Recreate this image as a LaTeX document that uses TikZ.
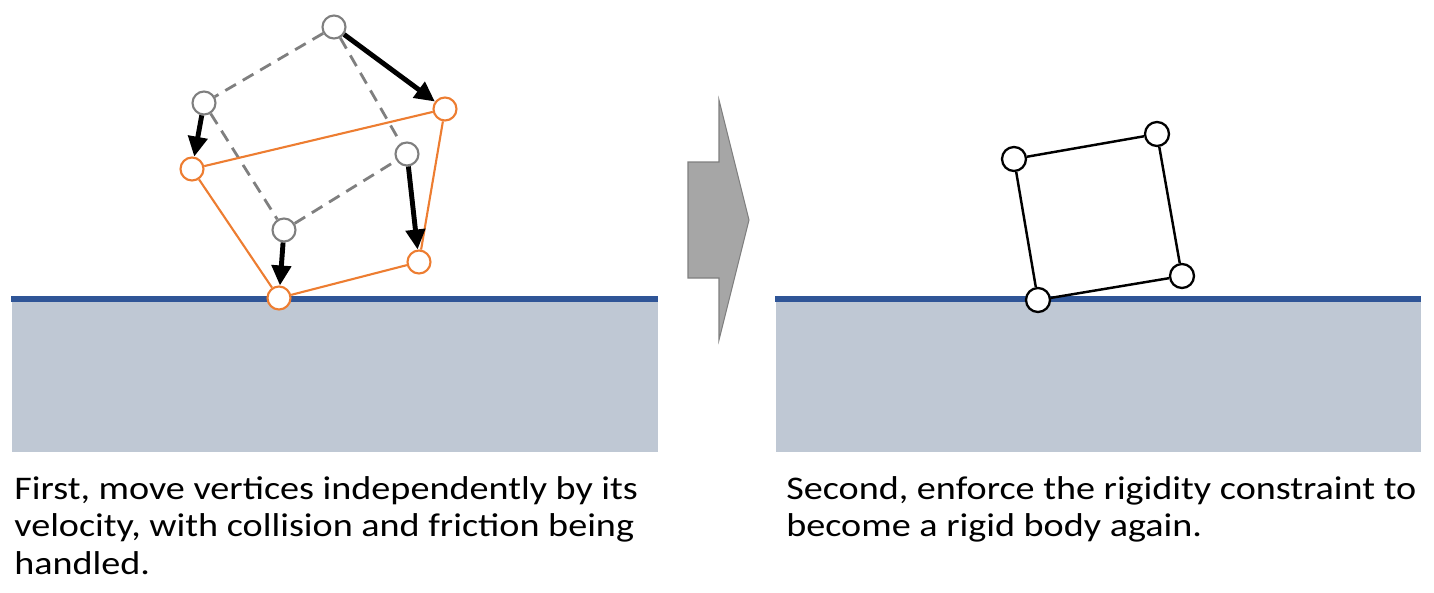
\documentclass[tikz,border=0pt]{standalone}
\usepackage{fontspec}
\setmainfont{Carlito}[FakeStretch=1.155]
\usetikzlibrary{arrows.meta}
\definecolor{vorange}{HTML}{ED7D31}
\definecolor{vgray}{HTML}{7F7F7F}
\definecolor{floorblue}{HTML}{2F5597}
\definecolor{floorfill}{HTML}{BFC8D4}
\definecolor{stepgray}{HTML}{A6A6A6}
\tikzset{
  oldvtx/.style   = {circle, draw=vgray, line width=1.2pt, fill=white,
                     inner sep=0pt, minimum size=0.46cm},
  newvtx/.style   = {circle, draw=vorange, line width=1.2pt, fill=white,
                     inner sep=0pt, minimum size=0.46cm},
  rigidvtx/.style = {circle, draw=black, line width=1.3pt, fill=white,
                     inner sep=0pt, minimum size=0.48cm},
  oldedge/.style  = {draw=vgray, line width=1.6pt, dash pattern=on 7pt off 4.5pt},
  newedge/.style  = {draw=vorange, line width=1.2pt},
  rigidedge/.style= {draw=black, line width=1.4pt},
  move/.style     = {-{Triangle[length=4mm,width=3.8mm]}, line width=2.8pt},
  floorline/.style= {draw=floorblue, line width=3.2pt},
  caption/.style  = {anchor=north west, inner sep=0pt, align=left,
                     font=\fontsize{18.8}{21.3}\selectfont},
}

\begin{document}
\begin{tikzpicture}[x=0.02cm,y=-0.02cm]
  \useasboundingbox (0,0) rectangle (1434,592);

  % ---------------- floors ---------------------------------------------
  \fill[floorfill] (12,299) rectangle (658,452);
  \draw[floorline] (11,299) -- (658,299);
  \fill[floorfill] (776,299) rectangle (1421,452);
  \draw[floorline] (775,299) -- (1421,299);

  % ---------------- left: vertices before and after the move -----------
  \node[oldvtx] (g1) at (334,27)  {};
  \node[oldvtx] (g2) at (204,103) {};
  \node[oldvtx] (g3) at (407,154) {};
  \node[oldvtx] (g4) at (284,230) {};
  \node[newvtx] (o1) at (445,109) {};
  \node[newvtx] (o2) at (192,169) {};
  \node[newvtx] (o3) at (419,262) {};
  \node[newvtx] (o4) at (279,298) {};

  \draw[oldedge] (g1) -- (g2) (g1) -- (g3) (g2) -- (g4) (g4) -- (g3);
  \draw[newedge] (o2) -- (o1) (o1) -- (o3) (o3) -- (o4) (o4) -- (o2);

  \draw[move] (g1) -- (o1);
  \draw[move] (g2) -- (o2);
  \draw[move] (g3) -- (o3);
  \draw[move] (g4) -- (o4);

  % ---------------- step arrow -----------------------------------------
  \draw[fill=stepgray,draw=vgray,line width=0.6pt]
        (688,162) -- (719,162) -- (719,100) -- (749,220)
        -- (719,340) -- (719,278) -- (688,278) -- cycle;

  % ---------------- right: rigid body again ----------------------------
  \node[rigidvtx] (r1) at (1014,159) {};
  \node[rigidvtx] (r2) at (1157,134) {};
  \node[rigidvtx] (r3) at (1182,276) {};
  \node[rigidvtx] (r4) at (1038,300) {};
  \draw[rigidedge] (r1) -- (r2) (r2) -- (r3) (r3) -- (r4) (r4) -- (r1);

  % ---------------- captions -------------------------------------------
  \node[caption] (capL) at (14,476)
        {First, move vertices independently by its\\
         velocity, with collision and friction being\\
         handled.};
  \node[caption] (capR) at (786,476)
        {Second, enforce the rigidity constraint to\\
         become a rigid body again.};
\end{tikzpicture}
\end{document}
